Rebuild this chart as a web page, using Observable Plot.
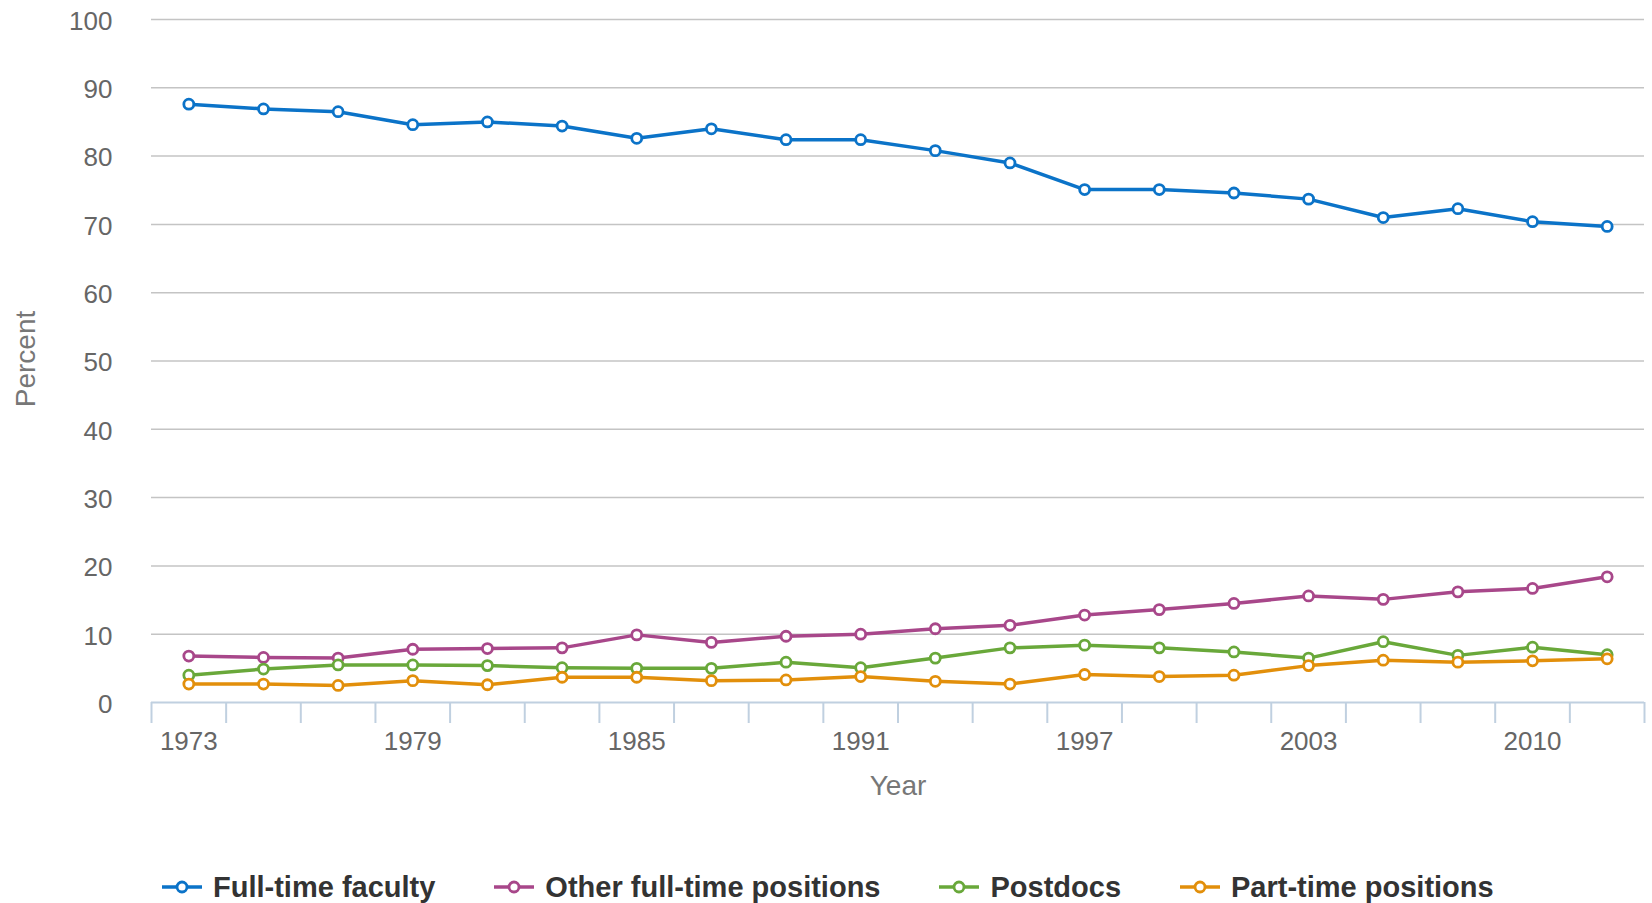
<!DOCTYPE html>
<html>
<head>
<meta charset="utf-8">
<script src="https://cdn.jsdelivr.net/npm/d3@7"></script>
<script src="https://cdn.jsdelivr.net/npm/@observablehq/plot@0.6"></script>
<style>
  html, body { margin: 0; padding: 0; background: #fff; }
  body { font-family: "Liberation Sans", Arial, sans-serif; width: 1652px; height: 903px; overflow: hidden; }
  #legend { display: flex; align-items: center; height: 40px; margin-top: 37px; padding-left: 162px; }
  .item { display: flex; align-items: center; margin-right: 59px; }
  .item svg { display: block; margin-right: 11px; }
  .item span { font-weight: bold; font-size: 29px; color: #333; white-space: nowrap; }
</style>
</head>
<body>
<div id="chart"></div>
<div id="legend"></div>
<script>
const years = [1973,1975,1977,1979,1981,1983,1985,1987,1989,1991,1993,1995,1997,1999,2001,2003,2006,2008,2010,2013];
const fullTimeFaculty = [87.6,86.9,86.5,84.6,85.0,84.4,82.6,84.0,82.4,82.4,80.8,79.0,75.1,75.1,74.6,73.7,71.0,72.3,70.4,69.7];
const otherFullTime = [6.8,6.6,6.5,7.8,7.9,8.0,9.9,8.8,9.7,10.0,10.8,11.3,12.8,13.6,14.5,15.6,15.1,16.2,16.7,18.4];
const postdocs = [4.0,4.9,5.5,5.5,5.4,5.1,5.0,5.0,5.9,5.1,6.5,8.0,8.4,8.0,7.4,6.5,8.9,6.9,8.1,7.0];
const partTime = [2.7,2.7,2.5,3.2,2.6,3.7,3.7,3.2,3.3,3.8,3.1,2.7,4.1,3.8,4.0,5.4,6.2,5.9,6.1,6.4];
const seriesNames = ["Full-time faculty","Other full-time positions","Postdocs","Part-time positions"];
const seriesColors = ["#0b73c8","#a8478a","#69a83a","#e28f0b"];
const yTicks = [0,10,20,30,40,50,60,70,80,90,100];
const labeledYears = [1973,1979,1985,1991,1997,2003,2010];

const seriesValues = [fullTimeFaculty, otherFullTime, postdocs, partTime];
const rows = seriesValues.map((vals, s) => vals.map((v, i) => ({series: seriesNames[s], idx: i + 0.5, year: years[i], value: v})));
const boundaries = d3.range(years.length + 1);
const labelPositions = labeledYears.map(y => years.indexOf(y) + 0.5);

const seriesMarks = [];
rows.forEach((data, s) => {
  seriesMarks.push(Plot.line(data, {x: "idx", y: "value", stroke: seriesColors[s], strokeWidth: 3.5}));
  seriesMarks.push(Plot.dot(data, {x: "idx", y: "value", r: 5, fill: "#fff", stroke: seriesColors[s], strokeWidth: 2.8}));
});

const chart = Plot.plot({
  width: 1652,
  height: 830,
  marginTop: 19,
  marginBottom: 128,
  marginLeft: 151,
  marginRight: 8,
  style: {fontFamily: "'Liberation Sans', Arial, sans-serif", background: "#fff"},
  x: {type: "linear", domain: [0, years.length], axis: null},
  y: {domain: [0, 100], axis: null},
  marks: [
    Plot.ruleY(yTicks.filter(d => d > 0), {stroke: "#c4c4c4", strokeWidth: 1.5}),
    Plot.ruleY([0], {stroke: "#c0d0e0", strokeWidth: 2}),
    Plot.axisY(yTicks, {tickSize: 0, tickPadding: 39, fontSize: 26, fill: "#666", dy: 2, label: null}),
    Plot.axisX(boundaries, {tickSize: 21, tickFormat: () => "", stroke: "#c0d0e0", strokeWidth: 2, label: null}),
    Plot.axisX(labelPositions, {tickSize: 0, tickPadding: 29, fontSize: 26, fill: "#666", tickFormat: d => String(years[Math.round(d - 0.5)]), label: null}),
    Plot.text(["Year"], {frameAnchor: "bottom", dy: 92, fontSize: 28, fill: "#777"}),
    Plot.text(["Percent"], {frameAnchor: "left", textAnchor: "middle", dx: -125, dy: -2, rotate: -90, fontSize: 28, fill: "#777"}),
    ...seriesMarks
  ]
});
document.getElementById("chart").appendChild(chart);

const legend = document.getElementById("legend");
seriesNames.forEach((name, s) => {
  const item = document.createElement("div");
  item.className = "item";
  item.innerHTML = `<svg width="40" height="16"><line x1="0" y1="8" x2="40" y2="8" stroke="${seriesColors[s]}" stroke-width="3.5"/><circle cx="20" cy="8" r="5" fill="#fff" stroke="${seriesColors[s]}" stroke-width="2.8"/></svg><span>${name}</span>`;
  legend.appendChild(item);
});
</script>
</body>
</html>
